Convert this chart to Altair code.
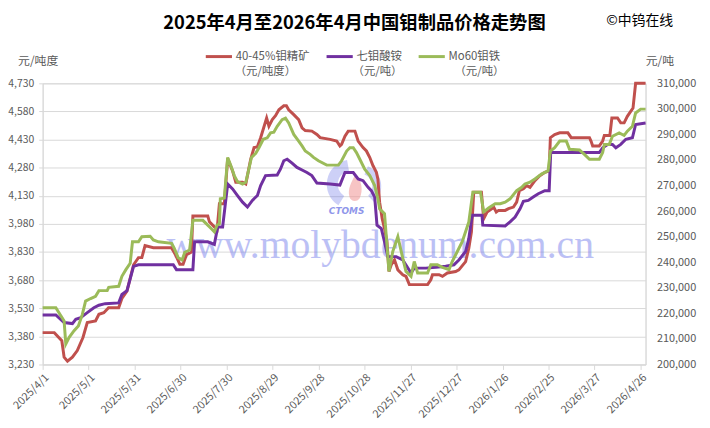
import altair as alt
import pandas as pd

START = pd.Timestamp("2025-04-01")

series_names = ["40-45%钼精矿", "七钼酸铵", "Mo60钼铁"]
series_units = ["（元/吨度）", "（元/吨）", "（元/吨）"]
series_colors = ["#C0504D", "#7030A0", "#9BBB59"]

# days after 2025/4/1
red_day = [0, 7.6, 12.5, 14, 16.2, 19.4, 22.6, 26.3, 29.1, 34.5, 36.7, 39.9, 43, 49.6, 51.7, 55, 59.3, 62.5, 64.7, 66.8,
           72.2, 84, 86.7, 89.5, 91.6, 93.8, 97, 98, 107.7, 108.8, 112, 113.8, 115.3, 118.5, 120.7, 123.9, 126, 130.4,
           132.5, 134, 135.7, 137.9, 140, 142.2, 146.1, 147.6, 149.8, 151.9, 154.1, 157.3, 159, 160.5, 163.8, 167,
           169.2, 171.3, 175.6, 178.9, 181, 187.5, 191.8, 193.9, 195, 197.2, 199.3, 203.7, 205.8, 209, 211.2, 213.4,
           215.5, 217.7, 218.7, 219.8, 221.5, 223, 224.6, 225.9, 227.4, 229.5, 231.7, 234.9, 237, 239.2, 251.1, 253.2,
           254.3, 258.6, 260.8, 264, 269.4, 271.5, 275.9, 278, 279.7, 280.6, 281.2, 286.2, 287.7, 289.9, 293.1, 294.2,
           295.9, 297.4, 301.7, 303.9, 307.1, 309.2, 311, 313.6, 315.7, 317.9, 321.1, 324.3, 327.6, 330.4, 331.2, 334,
           337.3, 342.6, 344.8, 356.7, 357.7, 358.8, 363.1, 365.3, 366.4, 370, 371.3, 375, 377.1, 379.3, 381.4, 383.6,
           385.1, 386.8, 393.3]
red_val = [3400, 3400, 3357, 3269, 3248, 3269, 3304, 3374, 3454, 3462, 3498, 3506, 3533, 3533, 3582, 3621, 3762, 3800,
           3800, 3864, 3853, 3853, 3815, 3765, 3765, 3815, 3830, 4022, 4022, 3991, 3964, 3950, 4087, 4087, 4329, 4263,
           4202, 4202, 4193, 4255, 4325, 4387, 4390, 4440, 4545, 4501, 4536, 4557, 4589, 4610, 4610, 4589, 4563, 4536,
           4492, 4478, 4475, 4457, 4440, 4431, 4422, 4396, 4404, 4448, 4475, 4475, 4422, 4387, 4369, 4334, 4290, 4255,
           4219, 4096, 4008, 3955, 3885, 3726, 3762, 3788, 3735, 3709, 3700, 3656, 3656, 3682, 3709, 3709, 3700, 3718,
           3726, 3735, 3779, 3850, 3938, 4061, 4149, 4149, 4008, 4043, 4061, 4070, 4043, 4052, 4052, 4061, 4070, 4096,
           4158, 4167, 4184, 4175, 4211, 4237, 4255, 4263, 4440, 4457, 4466, 4466, 4440, 4440, 4422, 4396, 4396, 4422,
           4452, 4452, 4545, 4545, 4519, 4519, 4554, 4580, 4598, 4730, 4730]

purple_day = [0, 8.6, 14, 19.4, 21.6, 24.8, 29.1, 33.4, 36.7, 40.8, 49.6, 51.7, 55, 59.3, 62.5, 85.2, 87.3, 98, 99.1,
              107.7, 112, 114.2, 117.4, 120.7, 123.9, 127.1, 130.4, 133.6, 136.8, 140.1, 142.2, 145.4, 153, 155.1,
              157.3, 159.5, 162.7, 165.9, 170.2, 172.4, 175.6, 178.9, 187.5, 193.9, 197.2, 202.6, 205.8, 209, 212.3,
              214.4, 216.6, 218.1, 220.9, 223, 225.2, 230.6, 234.9, 240.3, 242.4, 250, 256.5, 262.9, 268.3, 271.5,
              275.9, 278, 280.2, 286.6, 287.1, 301.7, 304.9, 308.2, 311.4, 313.6, 316.8, 320, 323.3, 327.6, 330.4,
              331.4, 363.1, 365.3, 368.5, 371.7, 373.9, 377.1, 380.4, 384.7, 386.8, 393.3]
purple_val = [219400, 219400, 216400, 216000, 217700, 218300, 220300, 222200, 223200, 223800, 224100, 227400, 228900,
              238400, 239000, 239000, 237100, 237100, 248000, 248000, 247000, 253800, 253800, 270600, 268700, 266100,
              263500, 261600, 264200, 266100, 270000, 273900, 274100, 276400, 279700, 280300, 278800, 277100, 275800,
              275100, 273900, 271000, 270600, 270200, 275100, 275100, 272600, 271900, 269300, 268000, 265500, 254500,
              253200, 248000, 242200, 242200, 240900, 235800, 237700, 237700, 238000, 238400, 239000, 240900, 244200,
              249300, 258400, 258400, 254500, 254200, 255800, 257700, 260900, 263800, 264200, 265500, 266800, 268000,
              268000, 282900, 282900, 284800, 286100, 286100, 284800, 286100, 288100, 288700, 293900, 294500]

green_day = [0, 8.6, 14, 15.1, 17.3, 20.5, 23.3, 25.9, 28, 31.3, 34.5, 36.7, 42.1, 43.1, 49.6, 51.7, 54.3, 57.1, 58.6,
             62.5, 64.7, 70.1, 72.2, 75.5, 84.1, 85.8, 88.4, 91, 92.7, 95.9, 98, 104.5, 106.7, 109.9, 112, 113.8, 115.3,
             115.9, 118.5, 120.7, 122.8, 125, 127.1, 130.4, 132.5, 134, 136.2, 139, 141.1, 143.9, 146.5, 148.7, 150.8,
             153, 156.2, 158.4, 160.5, 163.8, 167, 169.2, 171.3, 174.5, 176.7, 179.9, 185.3, 192.9, 195, 198.3, 200.4,
             202.6, 204.7, 206.9, 210.1, 213.4, 216.6, 218.7, 219.8, 223, 224.1, 225.9, 228.4, 231.7, 234.9, 237,
             240.3, 242.4, 244.6, 251.1, 253.2, 257.5, 260.8, 265.1, 267.2, 270.5, 273.7, 278, 280.6, 285.6, 287.7,
             290.9, 295.2, 298.5, 301.7, 304.9, 309.2, 312.5, 314.6, 317.9, 321.1, 325.4, 329.7, 331.2, 334, 337.3,
             341.6, 343.7, 350.2, 353.4, 356.7, 363.1, 365.3, 366.4, 369.6, 371.7, 376.1, 379.3, 381.4, 384.7, 386.8,
             390.1, 393.3]
green_val = [222200, 222200, 217000, 208000, 210600, 213200, 215100, 219600, 224800, 225800, 226700, 228900, 228900,
             230200, 230600, 234500, 237100, 239600, 248000, 248000, 250000, 250200, 248700, 248000, 247400, 245500,
             241800, 240900, 243900, 244800, 256400, 256400, 255100, 253200, 251900, 254500, 255100, 264800, 265100,
             281000, 277700, 273900, 271500, 270600, 271300, 275100, 281000, 282600, 284800, 288100, 288700, 290600,
             290900, 293200, 295800, 296400, 294500, 290000, 287400, 285500, 283500, 282200, 281000, 279700, 278000,
             278000, 279700, 283500, 284800, 284800, 282900, 280300, 276400, 273900, 270000, 264800, 260900, 259000,
             250600, 236400, 244200, 250000, 241600, 236400, 234500, 240300, 235800, 235800, 239000, 239000, 238000,
             237100, 240300, 244200, 248000, 255800, 267400, 267400, 259700, 261200, 262900, 262900, 263500, 264800,
             268000, 269300, 270600, 271300, 272600, 274500, 275800, 283500, 284800, 287400, 287400, 284200, 283900,
             282200, 280300, 280300, 282900, 286100, 286100, 289300, 290600, 289600, 291300, 293200, 298400, 299900,
             299900]

left_ticks = [3230, 3380, 3530, 3680, 3830, 3980, 4130, 4280, 4430, 4580, 4730]
right_ticks = [200000, 210000, 220000, 230000, 240000, 250000, 260000, 270000, 280000, 290000, 300000, 310000]
x_tick_dates = [(2025, 4, 1), (2025, 5, 1), (2025, 5, 31), (2025, 6, 30), (2025, 7, 30), (2025, 8, 29),
                (2025, 9, 28), (2025, 10, 28), (2025, 11, 27), (2025, 12, 27), (2026, 1, 26), (2026, 2, 25),
                (2026, 3, 27), (2026, 4, 26)]

title_text = "2025年4月至2026年4月中国钼制品价格走势图"
source_text = "©中钨在线"
watermark_text = "www.molybdenum.com.cn"
logo_text = "CTOMS"

FONT = "Microsoft YaHei, Noto Sans CJK SC, sans-serif"
GREY = "#595959"
LINE = "#d9d9d9"

# x positions (relative to the plot's left edge) of the unit line under each legend label
unit_x = [194, 313, 416]


def frame(days, vals, name):
    return pd.DataFrame({
        "date": [START + pd.Timedelta(days=d) for d in days],
        "value": vals,
        "series": name,
    })


left_df = frame(red_day, red_val, series_names[0])
right_df = pd.concat([frame(purple_day, purple_val, series_names[1]),
                      frame(green_day, green_val, series_names[2])])

x_enc = alt.X(
    "date:T",
    scale=alt.Scale(domain=[alt.DateTime(year=2025, month=4, date=1),
                            alt.DateTime(year=2026, month=4, date=29, hours=7)]),
    axis=alt.Axis(
        values=[alt.DateTime(year=y, month=m, date=d) for y, m, d in x_tick_dates],
        format="%Y/%-m/%-d", labelAngle=-45, labelAlign="right", labelBaseline="top",
        labelFontSize=11, labelColor=GREY, labelFont=FONT, labelPadding=2,
        tickColor=LINE, tickSize=5, domainColor=LINE, grid=False, title=None,
        labelOverlap=False, labelBound=False, labelFlush=False,
    ),
)

color_scale = alt.Scale(domain=series_names, range=series_colors)

left = alt.Chart(left_df).mark_line(strokeWidth=3).encode(
    x=x_enc,
    y=alt.Y("value:Q", scale=alt.Scale(domain=[3230, 4730], nice=False, zero=False),
            axis=alt.Axis(values=left_ticks, format=",.0f", orient="left", grid=True, gridColor=LINE,
                          labelFontSize=10.5, labelColor=GREY, labelFont=FONT, tickColor=LINE,
                          tickSize=4, labelPadding=5, domainColor=LINE,
                          title="元/吨度", titleAngle=0, titleX=-5, titleY=-23, titleAlign="center",
                          titleBaseline="middle", titleFontSize=12, titleFontWeight="normal",
                          titleColor=GREY, titleFont=FONT)),
    color=alt.Color(
        "series:N", scale=color_scale,
        legend=alt.Legend(
            orient="none", legendX=163, legendY=-42, direction="horizontal", title=None,
            symbolType="stroke", symbolStrokeWidth=3, symbolSize=700, labelFontSize=11.5,
            labelColor=GREY, labelFont=FONT, columnPadding=10,
            labelOffset=2, labelLimit=200,
        ),
    ),
)

right = alt.Chart(right_df).mark_line(strokeWidth=3).encode(
    x=x_enc,
    y=alt.Y("value:Q", scale=alt.Scale(domain=[200000, 310000], nice=False, zero=False),
            axis=alt.Axis(values=right_ticks, format=",.0f", orient="right", grid=False,
                          labelFontSize=11, labelColor=GREY, labelFont=FONT, tickSize=0,
                          labelPadding=11, domainColor=LINE,
                          title="元/吨", titleAngle=0, titleX=14, titleY=-23, titleAlign="center",
                          titleBaseline="middle", titleFontSize=12, titleFontWeight="normal",
                          titleColor=GREY, titleFont=FONT)),
    color=alt.Color("series:N", scale=color_scale),
)

unit_layers = [
    alt.Chart(pd.DataFrame({"t": [u]})).mark_text(
        font=FONT, fontSize=11.5, color=GREY, align="left", baseline="middle"
    ).encode(text="t:N", x=alt.value(ux), y=alt.value(-11))
    for u, ux in zip(series_units, unit_x)
]

one_row = pd.DataFrame({"t": [logo_text]})

watermark = alt.Chart(pd.DataFrame({"t": [watermark_text]})).mark_text(
    font="Liberation Serif", fontSize=40, color="#7a82ec", opacity=0.5, align="center", baseline="alphabetic"
).encode(text="t:N", x=alt.value(341), y=alt.value(176))

logo_left = alt.Chart(one_row).mark_arc(color="#5a64e6", opacity=0.3).encode(
    x=alt.value(312), y=alt.value(102), radius=alt.value(25), radius2=alt.value(14),
    theta=alt.value(3.7), theta2=alt.value(6.1))

logo_right = alt.Chart(one_row).mark_arc(color="#5a64e6", opacity=0.3).encode(
    x=alt.value(320), y=alt.value(104), radius=alt.value(22), radius2=alt.value(13),
    theta=alt.value(0.4), theta2=alt.value(2.4))

logo_dot = alt.Chart(one_row).mark_point(
    shape="M0,-1.4C0.6,-0.8 0.8,0.2 0.4,1C0.1,1.4 -0.5,1.3 -0.6,0.8C-0.8,0.1 -0.4,-0.6 0,-1.4Z",
    filled=True, color="#f08a8a", opacity=0.5, size=420
).encode(x=alt.value(316), y=alt.value(106))

ctoms = alt.Chart(one_row).mark_text(
    font="DejaVu Sans", fontSize=9, fontStyle="italic", fontWeight="bold", color="#8f96ea",
    align="center", baseline="middle"
).encode(text="t:N", x=alt.value(307), y=alt.value(129))

title = alt.Chart(pd.DataFrame({"t": [title_text]})).mark_text(
    font=FONT, fontSize=18.5, fontWeight="bold", color="#000000", align="center", baseline="middle"
).encode(text="t:N", x=alt.value(315), y=alt.value(-61))

source = alt.Chart(pd.DataFrame({"t": [source_text]})).mark_text(
    font=FONT, fontSize=14, color="#000000", align="center", baseline="middle"
).encode(text="t:N", x=alt.value(603), y=alt.value(-63))

chart = alt.layer(
    watermark, logo_left, logo_right, logo_dot, ctoms, left, right, *unit_layers, title, source
).resolve_scale(y="independent").properties(
    width=609, height=284,
    autosize=alt.AutoSizeParams(type="none"),
    padding={"left": 35, "top": 74, "right": 57, "bottom": 54},
).configure_view(stroke=None).configure(background="white")

chart.save("out.html", embed_options={"renderer": "svg", "actions": False})
